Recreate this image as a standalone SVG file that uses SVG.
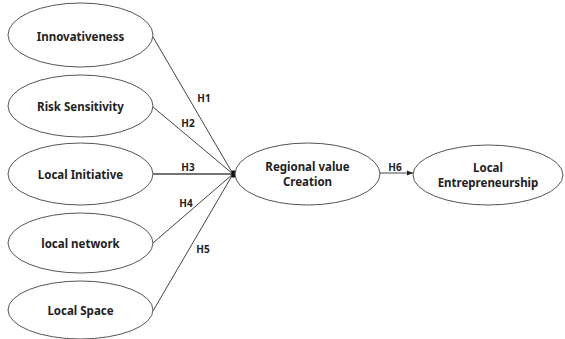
<svg xmlns="http://www.w3.org/2000/svg" width="565" height="339" viewBox="0 0 565 339">
<style>
.node ellipse{fill:#fff;stroke:#555;stroke-width:1}
.t{font-family:"Noto Sans","Open Sans",sans-serif;font-weight:bold;font-size:11.5px;fill:#222;text-anchor:middle}
.l{font-family:"Noto Sans","Open Sans",sans-serif;font-weight:bold;font-size:10px;fill:#222;text-anchor:middle}
.c line{stroke:#444;stroke-width:1}
</style>
<defs>
<marker id="ah" markerWidth="6" markerHeight="6" refX="6" refY="3" orient="auto" markerUnits="userSpaceOnUse">
<path d="M0,0.5 L6,3 L0,5.5 Z" fill="#222"/>
</marker>
</defs>
<rect width="565" height="339" fill="#fff"/>
<g class="c" id="connectors">
<line x1="153" y1="37" x2="233" y2="174"/>
<line x1="153" y1="107" x2="233" y2="174"/>
<line x1="153" y1="174" x2="233" y2="174" style="stroke-width:1.5"/>
<line x1="153" y1="243" x2="233" y2="174"/>
<line x1="153" y1="311" x2="233" y2="174"/>
<line x1="380" y1="173" x2="413" y2="173" marker-end="url(#ah)"/>
<rect x="231.5" y="170.5" width="3.5" height="7" fill="#111"/>
<text class="l" x="204" y="102">H1</text>
<text class="l" x="188" y="127">H2</text>
<text class="l" x="188" y="171">H3</text>
<text class="l" x="186" y="207">H4</text>
<text class="l" x="203" y="253">H5</text>
<text class="l" x="395" y="171">H6</text>
</g>
<g class="node" id="innovativeness"><ellipse cx="80.5" cy="35" rx="72.5" ry="32"/><text class="t" x="80.5" y="41">Innovativeness</text></g>
<g class="node" id="risk"><ellipse cx="80.5" cy="106" rx="72.5" ry="31"/><text class="t" x="80.5" y="111">Risk Sensitivity</text></g>
<g class="node" id="initiative"><ellipse cx="80.5" cy="174" rx="72.5" ry="31"/><text class="t" x="80.5" y="179">Local Initiative</text></g>
<g class="node" id="network"><ellipse cx="80.5" cy="243" rx="72.5" ry="30"/><text class="t" x="80.5" y="248">local network</text></g>
<g class="node" id="space"><ellipse cx="80.5" cy="310" rx="72.5" ry="29"/><text class="t" x="80.5" y="315">Local Space</text></g>
<g class="node" id="regional"><ellipse cx="307.5" cy="174" rx="72.5" ry="31"/><text class="t" x="307.5" y="171">Regional value</text><text class="t" x="307.5" y="186">Creation</text></g>
<g class="node" id="entrepreneurship"><ellipse cx="488" cy="175" rx="75" ry="30"/><text class="t" x="488" y="172">Local</text><text class="t" x="488" y="187">Entrepreneurship</text></g>
</svg>
